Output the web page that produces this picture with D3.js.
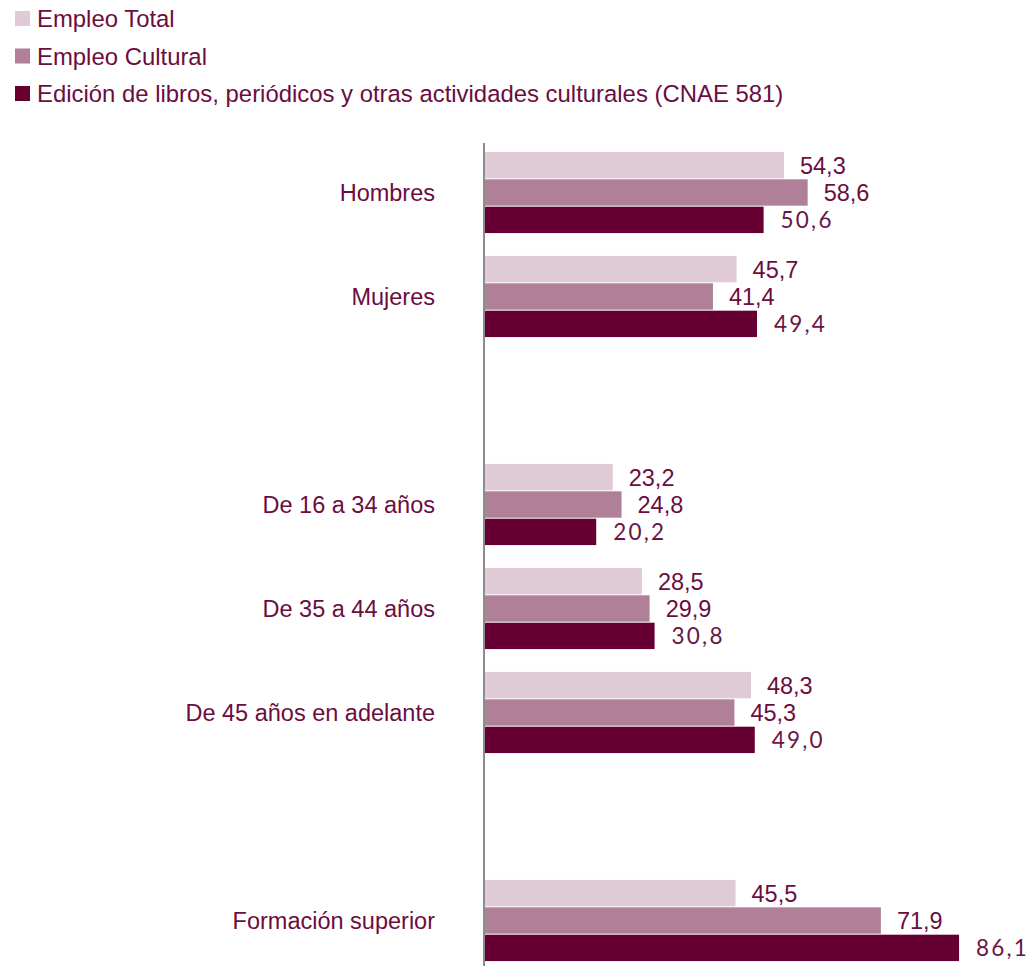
<!DOCTYPE html>
<html><head><meta charset="utf-8">
<script src="https://cdn.jsdelivr.net/npm/d3@7/dist/d3.min.js"></script>
<style>body{margin:0;background:#fff;}</style>
</head><body>
<svg id="c" width="1028" height="966"></svg>
<script>
const categories = ["Hombres","Mujeres","","De 16 a 34 años","De 35 a 44 años","De 45 años en adelante"," ","Formación superior"];
const seriesNames = ["Empleo Total","Empleo Cultural","Edición de libros, periódicos y otras actividades culturales (CNAE 581)"];
const empleoTotal =    [54.3, 45.7, null, 23.2, 28.5, 48.3, null, 45.5];
const empleoCultural = [58.6, 41.4, null, 24.8, 29.9, 45.3, null, 71.9];
const edicion =        [50.6, 49.4, null, 20.2, 30.8, 49.0, null, 86.1];
const colors = ["#dfcad6", "#b08098", "#660033"];

const svg = d3.select("#c");
const x0 = 485;
const x = d3.scaleLinear().domain([0, 100]).range([x0, x0 + 550.6]);
const y = d3.scaleBand().domain(categories).range([140.5, 972.5]).paddingInner(0.21).paddingOuter(0.105);
const yi = d3.scaleBand().domain([0,1,2]).range([0, y.bandwidth()]);
const textColor = "#6b0d3f";
const fs = 23.5;

// legend
seriesNames.forEach((n, i) => {
  const ly = 27 + i * 37.5;
  svg.append("rect").attr("x", 15).attr("y", ly - 16).attr("width", 15).attr("height", 15).attr("fill", colors[i]);
  svg.append("text").attr("x", 37).attr("y", ly).text(n)
    .attr("font-family", "Liberation Sans, Arial, sans-serif").attr("font-size", 23.9).attr("fill", textColor);
});

const data = [empleoTotal, empleoCultural, edicion];
categories.forEach((c, ci) => {
  if (c.trim() === "") return;
  const gy = y(c);
  data.forEach((arr, si) => {
    const v = arr[ci];
    const by = gy + yi(si);
    svg.append("rect").attr("x", x(0)).attr("y", by + 0.5).attr("width", x(v) - x(0)).attr("height", yi.bandwidth() - 1)
      .attr("fill", colors[si]);
    const t = svg.append("text").attr("x", x(v) + (si === 2 ? 17 : 16)).attr("y", by + yi.bandwidth()/2 + 8.5)
      .text(d3.format(".1f")(v).replace(".", ","));
    if (si === 2) {
      t.attr("font-family", "Lato, sans-serif").attr("font-weight", 400).attr("fill", "#6a1545")
        .attr("letter-spacing", 2.2).attr("font-size", 22.5);
    } else {
      t.attr("font-family", "Liberation Sans, Arial, sans-serif").attr("fill", textColor).attr("font-size", fs);
    }
  });
  svg.append("text").attr("x", 435).attr("y", gy + y.bandwidth()/2 + 8.5).attr("text-anchor", "end")
    .text(c).attr("font-family", "Liberation Sans, Arial, sans-serif").attr("font-size", fs).attr("fill", textColor);
});

// axis line
svg.append("line").attr("x1", 484).attr("x2", 484).attr("y1", 143).attr("y2", 966)
  .attr("stroke", "#8c8c8c").attr("stroke-width", 2);
</script>
</body></html>
